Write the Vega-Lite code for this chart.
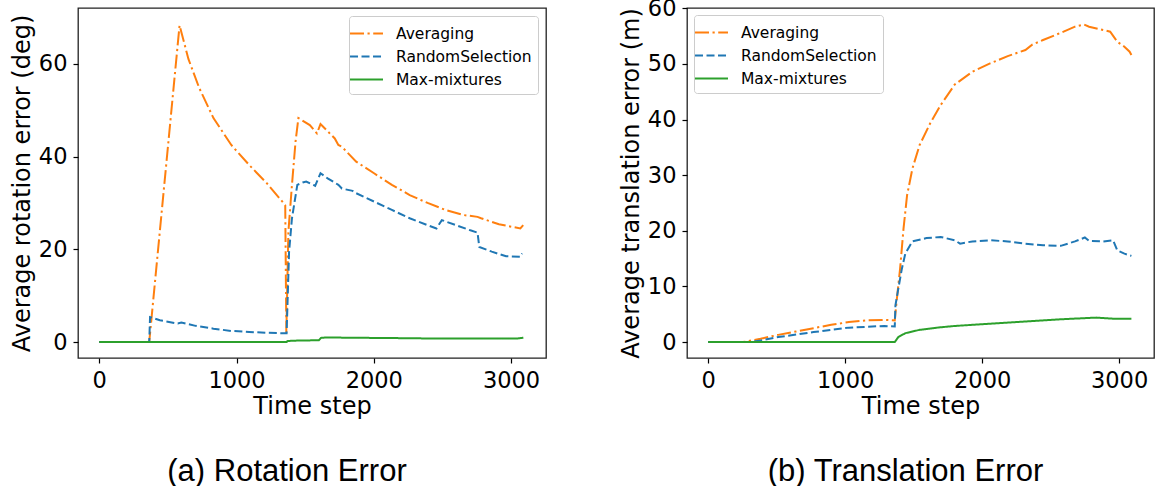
{
  "$schema": "https://vega.github.io/schema/vega-lite/v6.json",
  "padding": {"left": 9, "top": -4, "right": 0, "bottom": 0},
  "background": "white",
  "config": {
    "view": {"stroke": "#222222", "strokeWidth": 1.3},
    "axis": {
      "labelFont": "DejaVu Sans", "labelFontSize": 22.5, "labelColor": "black",
      "titleFont": "DejaVu Sans", "titleFontSize": 24, "titleFontWeight": "normal", "titleColor": "black",
      "tickColor": "black", "tickSize": 5, "tickWidth": 1.2,
      "domain": false, "grid": false, "labelPadding": 6
    },
    "axisX": {"titlePadding": 3, "format": "d"},
    "axisY": {"titlePadding": 4},
    "legend": {
      "labelFont": "DejaVu Sans", "labelFontSize": 15.5, "labelColor": "black",
      "symbolType": "M-1.57,0H1.57", "symbolSize": 441, "symbolStrokeWidth": 2,
      "labelOffset": 18, "rowPadding": 3, "padding": 6,
      "fillColor": "white", "strokeColor": "#cccccc", "cornerRadius": 3
    }
  },
  "datasets": {
    "rot": [
      {"series": "Averaging", "t": 0, "v": 0},
      {"series": "Averaging", "t": 364, "v": 0},
      {"series": "Averaging", "t": 585, "v": 68.3},
      {"series": "Averaging", "t": 650, "v": 61},
      {"series": "Averaging", "t": 728, "v": 54.8},
      {"series": "Averaging", "t": 832, "v": 48.3},
      {"series": "Averaging", "t": 962, "v": 42.5},
      {"series": "Averaging", "t": 1092, "v": 38.2},
      {"series": "Averaging", "t": 1222, "v": 34.2},
      {"series": "Averaging", "t": 1339, "v": 30.1},
      {"series": "Averaging", "t": 1355, "v": 29.5},
      {"series": "Averaging", "t": 1363, "v": 2},
      {"series": "Averaging", "t": 1378, "v": 23.8},
      {"series": "Averaging", "t": 1404, "v": 33.9},
      {"series": "Averaging", "t": 1430, "v": 43.2},
      {"series": "Averaging", "t": 1451, "v": 48.3},
      {"series": "Averaging", "t": 1534, "v": 46.8},
      {"series": "Averaging", "t": 1586, "v": 45},
      {"series": "Averaging", "t": 1612, "v": 47},
      {"series": "Averaging", "t": 1716, "v": 43.9},
      {"series": "Averaging", "t": 1742, "v": 42.5},
      {"series": "Averaging", "t": 1768, "v": 42.1},
      {"series": "Averaging", "t": 1872, "v": 38.9},
      {"series": "Averaging", "t": 2002, "v": 36.4},
      {"series": "Averaging", "t": 2132, "v": 33.9},
      {"series": "Averaging", "t": 2262, "v": 31.7},
      {"series": "Averaging", "t": 2392, "v": 30},
      {"series": "Averaging", "t": 2522, "v": 28.5},
      {"series": "Averaging", "t": 2652, "v": 27.4},
      {"series": "Averaging", "t": 2756, "v": 27},
      {"series": "Averaging", "t": 2782, "v": 26.7},
      {"series": "Averaging", "t": 2912, "v": 25.4},
      {"series": "Averaging", "t": 3068, "v": 24.5},
      {"series": "Averaging", "t": 3089, "v": 25.2},
      {"series": "RandomSelection", "t": 0, "v": 0},
      {"series": "RandomSelection", "t": 364, "v": 0},
      {"series": "RandomSelection", "t": 370, "v": 5.4},
      {"series": "RandomSelection", "t": 442, "v": 4.7},
      {"series": "RandomSelection", "t": 572, "v": 4},
      {"series": "RandomSelection", "t": 598, "v": 4.2},
      {"series": "RandomSelection", "t": 702, "v": 3.5},
      {"series": "RandomSelection", "t": 832, "v": 2.9},
      {"series": "RandomSelection", "t": 962, "v": 2.4},
      {"series": "RandomSelection", "t": 1092, "v": 2.2},
      {"series": "RandomSelection", "t": 1222, "v": 2.0},
      {"series": "RandomSelection", "t": 1352, "v": 1.9},
      {"series": "RandomSelection", "t": 1365, "v": 1.9},
      {"series": "RandomSelection", "t": 1383, "v": 19.5},
      {"series": "RandomSelection", "t": 1404, "v": 26.7},
      {"series": "RandomSelection", "t": 1443, "v": 33.9},
      {"series": "RandomSelection", "t": 1482, "v": 34.4},
      {"series": "RandomSelection", "t": 1508, "v": 34.6},
      {"series": "RandomSelection", "t": 1560, "v": 33.9},
      {"series": "RandomSelection", "t": 1573, "v": 33.7},
      {"series": "RandomSelection", "t": 1612, "v": 36.4},
      {"series": "RandomSelection", "t": 1664, "v": 35.3},
      {"series": "RandomSelection", "t": 1742, "v": 33.9},
      {"series": "RandomSelection", "t": 1768, "v": 33.1},
      {"series": "RandomSelection", "t": 1846, "v": 32.6},
      {"series": "RandomSelection", "t": 1872, "v": 32.1},
      {"series": "RandomSelection", "t": 2002, "v": 30.3},
      {"series": "RandomSelection", "t": 2132, "v": 28.5},
      {"series": "RandomSelection", "t": 2262, "v": 26.7},
      {"series": "RandomSelection", "t": 2392, "v": 25.2},
      {"series": "RandomSelection", "t": 2457, "v": 24.5},
      {"series": "RandomSelection", "t": 2496, "v": 26.3},
      {"series": "RandomSelection", "t": 2600, "v": 25.2},
      {"series": "RandomSelection", "t": 2704, "v": 24.1},
      {"series": "RandomSelection", "t": 2756, "v": 23.6},
      {"series": "RandomSelection", "t": 2769, "v": 20.5},
      {"series": "RandomSelection", "t": 2860, "v": 19.5},
      {"series": "RandomSelection", "t": 2964, "v": 18.5},
      {"series": "RandomSelection", "t": 3068, "v": 18.4},
      {"series": "RandomSelection", "t": 3081, "v": 19.1},
      {"series": "Max-mixtures", "t": 0, "v": 0},
      {"series": "Max-mixtures", "t": 1365, "v": 0},
      {"series": "Max-mixtures", "t": 1370, "v": 0.2},
      {"series": "Max-mixtures", "t": 1400, "v": 0.3},
      {"series": "Max-mixtures", "t": 1600, "v": 0.4},
      {"series": "Max-mixtures", "t": 1615, "v": 0.9},
      {"series": "Max-mixtures", "t": 1650, "v": 1.0},
      {"series": "Max-mixtures", "t": 1800, "v": 0.95},
      {"series": "Max-mixtures", "t": 2000, "v": 0.9},
      {"series": "Max-mixtures", "t": 2200, "v": 0.85},
      {"series": "Max-mixtures", "t": 2500, "v": 0.75},
      {"series": "Max-mixtures", "t": 2800, "v": 0.75},
      {"series": "Max-mixtures", "t": 3050, "v": 0.8},
      {"series": "Max-mixtures", "t": 3090, "v": 0.95}
    ],
    "trans": [
      {"series": "Averaging", "t": 0, "v": 0},
      {"series": "Averaging", "t": 253, "v": 0},
      {"series": "Averaging", "t": 382, "v": 0.6},
      {"series": "Averaging", "t": 511, "v": 1.3},
      {"series": "Averaging", "t": 640, "v": 1.9},
      {"series": "Averaging", "t": 769, "v": 2.5},
      {"series": "Averaging", "t": 898, "v": 3.1},
      {"series": "Averaging", "t": 1027, "v": 3.6},
      {"series": "Averaging", "t": 1156, "v": 3.9},
      {"series": "Averaging", "t": 1285, "v": 4.0},
      {"series": "Averaging", "t": 1362, "v": 3.9},
      {"series": "Averaging", "t": 1375, "v": 7.2},
      {"series": "Averaging", "t": 1401, "v": 13.2},
      {"series": "Averaging", "t": 1426, "v": 20.4},
      {"series": "Averaging", "t": 1452, "v": 26.4},
      {"series": "Averaging", "t": 1491, "v": 31.2},
      {"series": "Averaging", "t": 1543, "v": 35.4},
      {"series": "Averaging", "t": 1620, "v": 39.3},
      {"series": "Averaging", "t": 1697, "v": 42.6},
      {"series": "Averaging", "t": 1800, "v": 46.3},
      {"series": "Averaging", "t": 1929, "v": 48.6},
      {"series": "Averaging", "t": 2058, "v": 50.1},
      {"series": "Averaging", "t": 2187, "v": 51.4},
      {"series": "Averaging", "t": 2316, "v": 52.5},
      {"series": "Averaging", "t": 2368, "v": 53.5},
      {"series": "Averaging", "t": 2445, "v": 54.3},
      {"series": "Averaging", "t": 2574, "v": 55.6},
      {"series": "Averaging", "t": 2678, "v": 56.7},
      {"series": "Averaging", "t": 2742, "v": 57.1},
      {"series": "Averaging", "t": 2781, "v": 56.7},
      {"series": "Averaging", "t": 2935, "v": 55.8},
      {"series": "Averaging", "t": 2987, "v": 54},
      {"series": "Averaging", "t": 3039, "v": 53.1},
      {"series": "Averaging", "t": 3077, "v": 52.2},
      {"series": "Averaging", "t": 3090, "v": 51.6},
      {"series": "RandomSelection", "t": 0, "v": 0},
      {"series": "RandomSelection", "t": 300, "v": 0},
      {"series": "RandomSelection", "t": 382, "v": 0.3},
      {"series": "RandomSelection", "t": 511, "v": 0.9},
      {"series": "RandomSelection", "t": 769, "v": 1.8},
      {"series": "RandomSelection", "t": 1027, "v": 2.6},
      {"series": "RandomSelection", "t": 1285, "v": 2.9},
      {"series": "RandomSelection", "t": 1362, "v": 2.8},
      {"series": "RandomSelection", "t": 1367, "v": 6.6},
      {"series": "RandomSelection", "t": 1388, "v": 9.6},
      {"series": "RandomSelection", "t": 1414, "v": 13.2},
      {"series": "RandomSelection", "t": 1439, "v": 15.9},
      {"series": "RandomSelection", "t": 1491, "v": 18.1},
      {"series": "RandomSelection", "t": 1594, "v": 18.7},
      {"series": "RandomSelection", "t": 1697, "v": 18.9},
      {"series": "RandomSelection", "t": 1800, "v": 18.3},
      {"series": "RandomSelection", "t": 1839, "v": 17.7},
      {"series": "RandomSelection", "t": 1929, "v": 18.1},
      {"series": "RandomSelection", "t": 2058, "v": 18.3},
      {"series": "RandomSelection", "t": 2187, "v": 18.1},
      {"series": "RandomSelection", "t": 2316, "v": 17.7},
      {"series": "RandomSelection", "t": 2445, "v": 17.4},
      {"series": "RandomSelection", "t": 2574, "v": 17.3},
      {"series": "RandomSelection", "t": 2678, "v": 18.1},
      {"series": "RandomSelection", "t": 2750, "v": 18.8},
      {"series": "RandomSelection", "t": 2781, "v": 18.2},
      {"series": "RandomSelection", "t": 2884, "v": 18.1},
      {"series": "RandomSelection", "t": 2956, "v": 18.3},
      {"series": "RandomSelection", "t": 2987, "v": 16.5},
      {"series": "RandomSelection", "t": 3039, "v": 15.9},
      {"series": "RandomSelection", "t": 3090, "v": 15.5},
      {"series": "Max-mixtures", "t": 0, "v": 0},
      {"series": "Max-mixtures", "t": 1362, "v": 0},
      {"series": "Max-mixtures", "t": 1388, "v": 0.9},
      {"series": "Max-mixtures", "t": 1439, "v": 1.6},
      {"series": "Max-mixtures", "t": 1543, "v": 2.2},
      {"series": "Max-mixtures", "t": 1672, "v": 2.6},
      {"series": "Max-mixtures", "t": 1800, "v": 2.9},
      {"series": "Max-mixtures", "t": 2058, "v": 3.3},
      {"series": "Max-mixtures", "t": 2316, "v": 3.7},
      {"series": "Max-mixtures", "t": 2574, "v": 4.1},
      {"series": "Max-mixtures", "t": 2832, "v": 4.4},
      {"series": "Max-mixtures", "t": 2961, "v": 4.2},
      {"series": "Max-mixtures", "t": 3090, "v": 4.2}
    ]
  },
  "spacing": 71,
  "resolve": {
    "scale": {"x": "independent", "y": "independent", "color": "independent", "strokeDash": "independent"},
    "legend": {"color": "independent", "strokeDash": "independent"}
  },
  "hconcat": [
    {
      "width": 468,
      "height": 350,
      "data": {"name": "rot"},
      "title": {"text": "(a) Rotation Error", "orient": "bottom", "anchor": "middle", "font": "Liberation Sans", "fontSize": 31, "fontWeight": "normal", "color": "black", "offset": 38, "dx": -25},
      "mark": {"type": "line", "strokeWidth": 2},
      "encoding": {
        "x": {"field": "t", "type": "quantitative", "scale": {"domain": [-155, 3255], "nice": false, "zero": false}, "axis": {"values": [0, 1000, 2000, 3000], "title": "Time step"}},
        "y": {"field": "v", "type": "quantitative", "scale": {"domain": [-3.43, 72.03], "nice": false, "zero": false}, "axis": {"values": [0, 20, 40, 60], "title": "Average rotation error (deg)"}},
        "color": {"field": "series", "type": "nominal", "scale": {"domain": ["Averaging", "RandomSelection", "Max-mixtures"], "range": ["#ff7f0e", "#1f77b4", "#2ca02c"]}, "legend": {"title": null, "orient": "top-right", "offset": 8}},
        "strokeDash": {"field": "series", "type": "nominal", "scale": {"domain": ["Averaging", "RandomSelection", "Max-mixtures"], "range": [[14, 3.5, 2.2, 3.5], [8, 3.5], [1, 0]]}, "legend": {"title": null, "orient": "top-right", "offset": 8}}
      }
    },
    {
      "width": 467,
      "height": 350,
      "data": {"name": "trans"},
      "title": {"text": "(b) Translation Error", "orient": "bottom", "anchor": "middle", "font": "Liberation Sans", "fontSize": 31, "fontWeight": "normal", "color": "black", "offset": 38, "dx": -15},
      "mark": {"type": "line", "strokeWidth": 2},
      "encoding": {
        "x": {"field": "t", "type": "quantitative", "scale": {"domain": [-155, 3255], "nice": false, "zero": false}, "axis": {"values": [0, 1000, 2000, 3000], "title": "Time step"}},
        "y": {"field": "v", "type": "quantitative", "scale": {"domain": [-2.86, 60.06], "nice": false, "zero": false}, "axis": {"values": [0, 10, 20, 30, 40, 50, 60], "title": "Average translation error (m)"}},
        "color": {"field": "series", "type": "nominal", "scale": {"domain": ["Averaging", "RandomSelection", "Max-mixtures"], "range": ["#ff7f0e", "#1f77b4", "#2ca02c"]}, "legend": {"title": null, "orient": "top-left", "offset": 7}},
        "strokeDash": {"field": "series", "type": "nominal", "scale": {"domain": ["Averaging", "RandomSelection", "Max-mixtures"], "range": [[14, 3.5, 2.2, 3.5], [8, 3.5], [1, 0]]}, "legend": {"title": null, "orient": "top-left", "offset": 7}}
      }
    }
  ]
}
